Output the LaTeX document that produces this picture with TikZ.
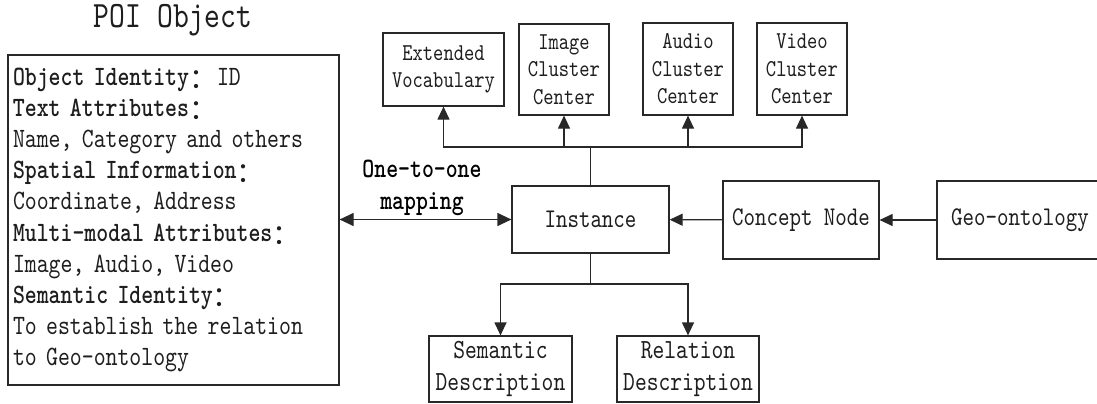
\documentclass[tikz,border=0pt]{standalone}
\usepackage{fontspec}
\setmainfont[BoldFont=lmmonolt10-bold.otf,FakeStretch=0.81]{lmmono10-regular.otf}
\newfontfamily\cjkfont{Noto Sans CJK SC}
\usepackage{tikz}
\usetikzlibrary{arrows.meta}
\usetikzlibrary{positioning}
\definecolor{line1}{RGB}{40,40,40}
\definecolor{text1}{RGB}{30,30,30}
\newcommand{\fwcolon}{\raisebox{-0.12em}{\cjkfont\mdseries ：}}
\newcommand{\titlefont}{\fontsize{37.2pt}{42pt}\selectfont}
\newcommand{\listfont}{\fontsize{28pt}{31.2pt}\selectfont}
\newcommand{\topfont}{\fontsize{24.2pt}{27.5pt}\selectfont}
\newcommand{\midfont}{\fontsize{27pt}{30pt}\selectfont}
\newcommand{\botfont}{\fontsize{27.7pt}{32pt}\selectfont}
\tikzset{
	box/.style={draw=line1,line width=1.2pt,align=center,inner sep=0pt,text=text1},
	con/.style={draw=line1,line width=1.2pt},
	arr/.style={con,-{Triangle[length=13pt,width=12pt]}},
	darr/.style={con,{Triangle[length=14pt,width=13pt]}-{Triangle[length=14pt,width=13pt]}},
}

\begin{document}
\begin{tikzpicture}[x=1pt,y=-1pt]

	\useasboundingbox (0,0) rectangle (1097,404);

	%%% POI object
	\node[text=text1,font=\titlefont] (poititle) at (173,20) {POI Object};
	\node[box,minimum width=331pt,minimum height=330pt,text width=321pt,align=left,inner xsep=5pt,font=\listfont] (poibox) at (173.5,220) {%
		\textbf{Object Identity\fwcolon}ID\\
		\textbf{Text Attributes\fwcolon}\\
		Name, Category and others\\
		\textbf{Spatial Information\fwcolon}\\
		Coordinate, Address\\
		\textbf{Multi-modal Attributes\fwcolon}\\
		Image, Audio, Video\\
		\textbf{Semantic Identity\fwcolon}\\
		To establish the relation\\
		to Geo-ontology};

	%%% Top boxes
	\node[box,minimum width=121pt,minimum height=73pt,font=\topfont] (extvoc) at (443.5,69.5) {Extended\\Vocabulary};
	\node[box,minimum width=90pt,minimum height=91pt,font=\topfont] (imgcc) at (564,69.5) {Image\\Cluster\\Center};
	\node[box,minimum width=90pt,minimum height=92pt,font=\topfont] (audcc) at (688,69) {Audio\\Cluster\\Center};
	\node[box,minimum width=90pt,minimum height=92pt,font=\topfont] (vidcc) at (802,69) {Video\\Cluster\\Center};

	%%% Middle row
	\node[box,minimum width=157pt,minimum height=67pt,font=\midfont] (inst) at (590.5,219.5) {Instance};
	\node[box,minimum width=156pt,minimum height=78pt,font=\midfont] (concept) at (801,220) {Concept Node};
	\node[box,minimum width=166pt,minimum height=78pt,font=\midfont] (geo) at (1020,220) {Geo-ontology};

	%%% Bottom boxes
	\node[box,minimum width=143pt,minimum height=66pt,font=\botfont] (semdesc) at (500.5,369) {Semantic\\Description};
	\node[box,minimum width=142pt,minimum height=66pt,font=\botfont] (reldesc) at (688,369) {Relation\\Description};

	%%% Mapping
	\node[align=center,font=\listfont\bfseries] (maplabel) at (422,188) {One-to-one\\mapping};
	\draw[darr] (poibox.east |- inst.west) -- (inst.west);

	%%% Chain from ontology
	\draw[arr] (geo) -- (concept);
	\draw[arr] (concept) -- (inst);

	%%% Upper bus
	\coordinate (bustop) at (590.5,147);
	\draw[con] (inst.north) -- (bustop);
	\draw[arr] (bustop) -| (extvoc);
	\draw[arr] (bustop) -| (imgcc);
	\draw[arr] (bustop) -| (audcc);
	\draw[arr] (bustop) -| (vidcc);

	%%% Lower bus
	\coordinate (busbot) at (590.5,284);
	\draw[con] (inst.south) -- (busbot);
	\draw[arr] (busbot) -| (semdesc);
	\draw[arr] (busbot) -| (reldesc);

\end{tikzpicture}
\end{document}
